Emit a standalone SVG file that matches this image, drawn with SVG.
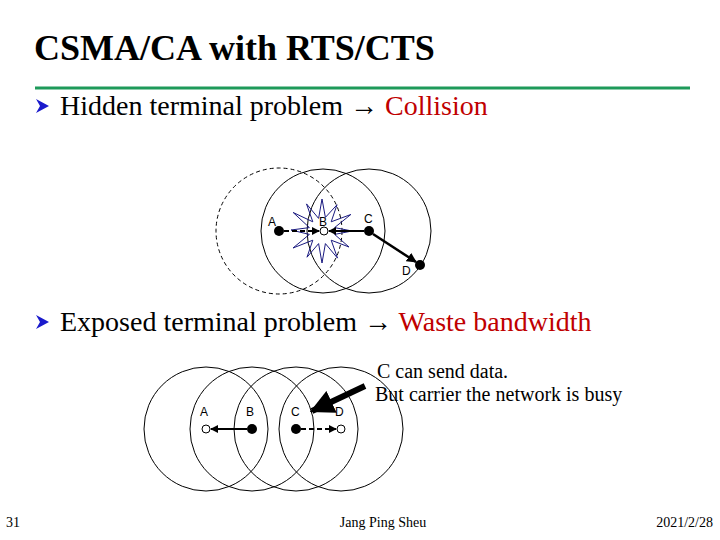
<svg xmlns="http://www.w3.org/2000/svg" width="720" height="540" viewBox="0 0 720 540">
<style>
.t{font-family:"Liberation Serif","Times New Roman",serif;fill:#000}
.lbl{font-family:"Liberation Sans",Arial,sans-serif;font-size:12px;fill:#000}
.rng{fill:none;stroke:#000;stroke-width:1}
.rngd{fill:none;stroke:#000;stroke-width:1;stroke-dasharray:4 3}
.red{fill:#c00000}
.foot{font-family:"Liberation Serif",serif;font-size:14px;fill:#000}
</style>
<defs>
<marker id="ahs" viewBox="0 0 10 10" refX="9" refY="5" markerWidth="4" markerHeight="4" orient="auto" markerUnits="strokeWidth">
<path d="M0,0 L10,5 L0,10 z" fill="#000"/>
</marker>
<path id="bul" d="M0,0 L13,7 L0,14 L4,7 z" fill="#1a1acc"/>
</defs>
<rect width="720" height="540" fill="#fff"/>

<g id="title">
<text class="t" x="34" y="60" font-size="36" font-weight="bold">CSMA/CA with RTS/CTS</text>
<line x1="35" y1="88" x2="690" y2="88" stroke="#1e9a5a" stroke-width="3"/>
</g>

<g id="bullet1">
<use href="#bul" x="36" y="99"/>
<text class="t" x="60" y="115" font-size="28">Hidden terminal problem → <tspan class="red">Collision</tspan></text>
</g>

<g id="hidden">
<g id="rangeA"><circle class="rngd" cx="279" cy="231" r="63"/></g>
<g id="rangeB"><circle class="rng" cx="323" cy="231" r="62"/></g>
<g id="rangeC"><circle class="rng" cx="369" cy="231" r="62"/></g>
<g id="burst"><polygon points="322,199 325.4,217.4 337,204.8 331.2,221.8 350.8,214.5 334.6,227.6 352,231 334.6,234.4 349,247 331.2,240.2 337.5,258.1 325.4,243.6 322,263 318.6,243.6 307,257.2 312.8,240.2 293,248 309.4,234.4 291,230 309.4,227.6 293.2,212.5 312.8,221.8 306.5,203.9 318.6,218.4" fill="none" stroke="#1a1a80" stroke-width="1"/></g>
<g id="hA"><circle cx="279" cy="231" r="5" fill="#000"/><text class="lbl" x="268" y="226">A</text></g>
<g id="hB"><circle cx="324" cy="231" r="4" fill="#fff" stroke="#000"/><text class="lbl" x="319" y="226">B</text></g>
<g id="hC"><circle cx="369" cy="231" r="5" fill="#000"/><text class="lbl" x="364" y="223">C</text></g>
<g id="hD"><circle cx="420" cy="265" r="5" fill="#000"/><text class="lbl" x="402" y="275">D</text></g>
<g id="hconn">
<line x1="284" y1="231" x2="319" y2="231" stroke="#000" stroke-width="2" stroke-dasharray="5 3" marker-end="url(#ahs)"/>
<line x1="364" y1="231" x2="329" y2="231" stroke="#000" stroke-width="2" marker-end="url(#ahs)"/>
<line x1="373" y1="234" x2="416" y2="262" stroke="#000" stroke-width="2.5" marker-end="url(#ahs)"/>
</g>
</g>

<g id="bullet2">
<use href="#bul" x="36" y="315"/>
<text class="t" x="60" y="331" font-size="28">Exposed terminal problem → <tspan class="red">Waste bandwidth</tspan></text>
</g>

<g id="exposed">
<g id="rA"><circle class="rng" cx="206" cy="429" r="62"/></g>
<g id="rB"><circle class="rng" cx="252" cy="429" r="62"/></g>
<g id="rC"><circle class="rng" cx="296" cy="429" r="62"/></g>
<g id="rD"><circle class="rng" cx="341" cy="429" r="62"/></g>
<g id="eA"><circle cx="206" cy="429" r="4" fill="#fff" stroke="#000"/><text class="lbl" x="200" y="416">A</text></g>
<g id="eB"><circle cx="252" cy="429" r="5" fill="#000"/><text class="lbl" x="246" y="416">B</text></g>
<g id="eC"><circle cx="296" cy="429" r="5" fill="#000"/><text class="lbl" x="291" y="416">C</text></g>
<g id="eD"><circle cx="341" cy="429" r="4" fill="#fff" stroke="#000"/><text class="lbl" x="335" y="416">D</text></g>
<g id="econn">
<line x1="247" y1="429" x2="211" y2="429" stroke="#000" stroke-width="2" marker-end="url(#ahs)"/>
<line x1="301" y1="429" x2="336" y2="429" stroke="#000" stroke-width="2" stroke-dasharray="5 3" marker-end="url(#ahs)"/>
<line x1="365" y1="386" x2="312" y2="411" stroke="#000" stroke-width="6" marker-end="url(#ahs)"/>
</g>
<g id="note">
<text class="t" x="377" y="378" font-size="20">C can send data.</text>
<text class="t" x="375" y="401" font-size="20">But carrier the network is busy</text>
</g>
</g>

<g id="footer">
<text class="foot" x="6" y="527" fill="#334">31</text>
<text class="foot" x="383" y="527" text-anchor="middle">Jang Ping Sheu</text>
<text class="foot" x="713" y="527" text-anchor="end">2021/2/28</text>
</g>
</svg>
